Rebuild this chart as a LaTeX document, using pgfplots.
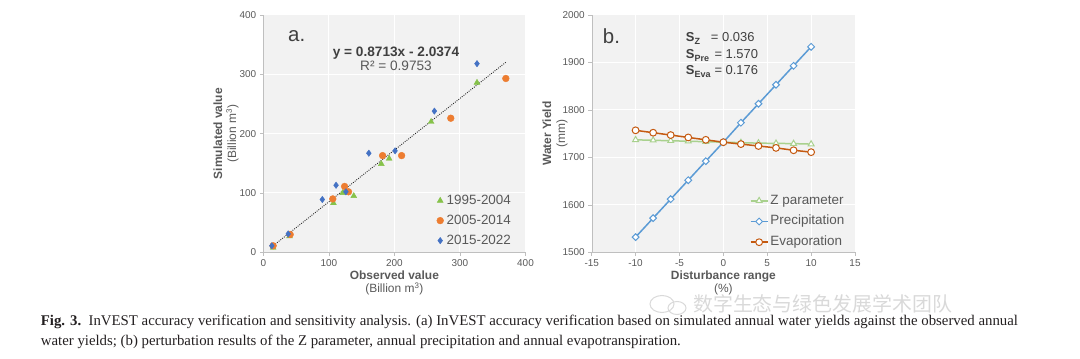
\documentclass[border=0pt]{standalone}
\usepackage{fontspec}
\setmainfont{Liberation Sans}
\newfontfamily\capfont{Liberation Serif}
\newfontfamily\cjk{Noto Sans CJK SC}
\usepackage{graphicx}
\usepackage{pgfplots}
\pgfplotsset{compat=1.18}
\definecolor{bg}{HTML}{F2F2F2}
\definecolor{axgray}{HTML}{BFBFBF}
\definecolor{tickgray}{HTML}{595959}
\definecolor{labgray}{HTML}{595959}
\definecolor{txtdark}{HTML}{404040}
\definecolor{cgreen}{HTML}{86C24A}
\definecolor{corange}{HTML}{ED7D31}
\definecolor{cblue}{HTML}{4472C4}
\definecolor{lblue}{HTML}{5B9BD5}
\definecolor{lbrown}{HTML}{C55A11}
\definecolor{lgreen}{HTML}{A9D18E}
\definecolor{capcol}{HTML}{231F20}

\pgfplotsset{
 base/.style={
  scale only axis, height=237.3bp, anchor=south west,
  axis background/.style={fill=bg},
  axis lines*=left, axis line style={draw=axgray, -},
  tick align=outside, major tick length=3.5bp,
  tick style={draw=axgray, line width=0.6bp},
  grid=major, grid style={draw=white, line width=1bp},
  tick label style={font=\fontsize{10}{12}\selectfont, text=tickgray},
  /pgf/number format/assume math mode=true,
  /pgf/number format/1000 sep={},
  scaled ticks=false,
  label style={font=\fontsize{12}{14}\selectfont, text=labgray, align=center},
  legend cell align=left,
 }
}

\begin{document}
\begin{tikzpicture}
\path[use as bounding box] (0,0) rectangle (1080bp,359bp);

% ---------------- (a) ----------------
\begin{axis}[base, at={(263.3bp,106.7bp)}, width=262.2bp,
 xmin=0,xmax=400,ymin=0,ymax=400,
 xtick={0,100,200,300,400}, ytick={0,100,200,300,400},
 xlabel={\textbf{Observed value}\\(Billion m\textsuperscript{3})},
 ylabel={\textbf{Simulated value}\\(Billion m\textsuperscript{3})},
 xlabel style={at={(axis description cs:0.5,-0.129)}, anchor=center},
 ylabel style={at={(axis description cs:-0.142,0.5)}, anchor=center},
 legend style={at={(0.661,0.2545)}, anchor=north west, draw=none, fill=none,
   inner sep=0pt, row sep=3bp, font=\fontsize{13.5}{16}\selectfont, text=labgray,
   nodes={inner xsep=3bp, inner ysep=2bp, text height=10bp, text depth=3bp}},
 legend image code/.code={\draw[mark repeat=2,mark phase=2,#1] plot coordinates {(0bp,0bp)(2bp,0bp)(4bp,0bp)};},
]
\addplot[only marks, mark=triangle*, mark size=3.4bp, color=cgreen] coordinates {
 (15,8) (40,27) (107,83) (121,100) (138,95) (180,149) (192,158) (256,220) (326,286)};
\addlegendentry{1995-2004}
\addplot[only marks, mark=*, mark size=3.4bp, color=corange] coordinates {
 (15,11) (41,30) (106,90) (124,111) (130,102) (182,163) (211,163) (286,226) (370,293)};
\addlegendentry{2005-2014}
\addplot[only marks, mark=diamond*, mark size=3.2bp, color=cblue] coordinates {
 (13,11) (38,31) (90,89) (111,113) (126,102) (161,167) (201,171) (261,238) (326,318)};
\addlegendentry{2015-2022}
\addplot[black!85, line width=0.9bp, dash pattern=on 0.9bp off 1.3bp, forget plot] coordinates {(13,9.29) (370,320.35)};
\end{axis}

% ---------------- (b) ----------------
\begin{axis}[base, at={(591.7bp,106.7bp)}, width=263.3bp,
 xmin=-15,xmax=15,ymin=1500,ymax=2000,
 xtick={-15,-10,-5,0,5,10,15}, ytick={1500,1600,1700,1800,1900,2000},
 xlabel={\textbf{Disturbance range}\\(\%)},
 ylabel={\textbf{Water Yield}\\(mm)},
 xlabel style={at={(axis description cs:0.5,-0.129)}, anchor=center},
 ylabel style={at={(axis description cs:-0.139,0.5)}, anchor=center},
 legend style={at={(0.600,0.2537)}, anchor=north west, draw=none, fill=none,
   inner sep=0pt, row sep=3.7bp, font=\fontsize{13.5}{16}\selectfont, text=labgray,
   nodes={inner xsep=2bp, inner ysep=2bp, text height=10bp, text depth=3bp}},
 legend image code/.code={\draw[mark repeat=2,mark phase=2,#1] plot coordinates {(0bp,0bp)(8.5bp,0bp)(17bp,0bp)};},
]
\addplot[lgreen, line width=1.5bp, mark=triangle*, mark size=3.4bp, mark options={fill=white, line width=1bp}] coordinates {
 (-10,1737) (-8,1736) (-6,1735) (-4,1734) (-2,1733) (0,1732) (2,1731) (4,1730) (6,1729.5) (8,1729) (10,1728)};
\addlegendentry{Z parameter}
\addplot[lblue, line width=1.5bp, mark=square*, mark size=2.4bp, mark options={fill=white, line width=1bp, rotate=45}] coordinates {
 (-10,1532) (-8,1572) (-6,1612) (-4,1652) (-2,1692) (0,1732) (2,1773) (4,1813) (6,1853) (8,1893) (10,1933)};
\addlegendentry{Precipitation}
\addplot[lbrown, line width=1.5bp, mark=*, mark size=3.4bp, mark options={fill=white, line width=1bp}] coordinates {
 (-10,1757) (-8,1752) (-6,1747) (-4,1742) (-2,1737) (0,1732) (2,1728) (4,1724) (6,1720) (8,1715) (10,1711)};
\addlegendentry{Evaporation}
\end{axis}

% annotations
\node[anchor=west, inner sep=0, font=\fontsize{20.5}{24}\selectfont, text=txtdark] at (288bp,323bp) {a.};
\node[anchor=base, inner sep=0, font=\bfseries\fontsize{13.7}{16}\selectfont, text=txtdark] at (396bp,302.3bp) {y = 0.8713x - 2.0374};
\node[anchor=base, inner sep=0, font=\fontsize{13.7}{16}\selectfont, text=tickgray] at (396bp,288bp) {R² = 0.9753};

\node[anchor=west, inner sep=0, font=\fontsize{20.5}{24}\selectfont, text=txtdark] at (602.7bp,323bp) {b.};
\begin{scope}[every node/.style={anchor=base west, inner sep=0, font=\fontsize{13}{15}\selectfont, text=txtdark}]
\node at (685.7bp,317.3bp) {\textbf{S}\raisebox{-3bp}{\fontsize{9}{10}\selectfont\textbf{Z}}};
\node at (710.7bp,317.3bp) {= 0.036};
\node at (685.7bp,300.3bp) {\textbf{S}\raisebox{-3bp}{\fontsize{9}{10}\selectfont\textbf{Pre}}};
\node at (714.3bp,300.3bp) {= 1.570};
\node at (685.7bp,284bp) {\textbf{S}\raisebox{-3bp}{\fontsize{9}{10}\selectfont\textbf{Eva}}};
\node at (714.3bp,284bp) {= 0.176};
\end{scope}

% watermark
\draw[black!15, line width=1bp] (662bp,55bp) ellipse (12bp and 8.5bp);
\draw[black!15, line width=1bp] (677bp,51bp) ellipse (9bp and 6.5bp);
\node[anchor=west, inner sep=0, font=\cjk\fontsize{20}{20}\selectfont, text=black!15] at (693bp,55bp) {数字生态与绿色发展学术团队};

% caption
\node[anchor=base west, inner sep=0] at (40.7bp,33bp) {\resizebox{977bp}{!}{\capfont\fontsize{13}{17}\selectfont\color{capcol}\begin{tabular}[t]{@{}l@{}}\textbf{Fig. 3.}\ \ InVEST accuracy verification and sensitivity analysis. (a) InVEST accuracy verification based on simulated annual water yields against the observed annual\\water yields; (b) perturbation results of the Z parameter, annual precipitation and annual evapotranspiration.\end{tabular}}};
\end{tikzpicture}
\end{document}
